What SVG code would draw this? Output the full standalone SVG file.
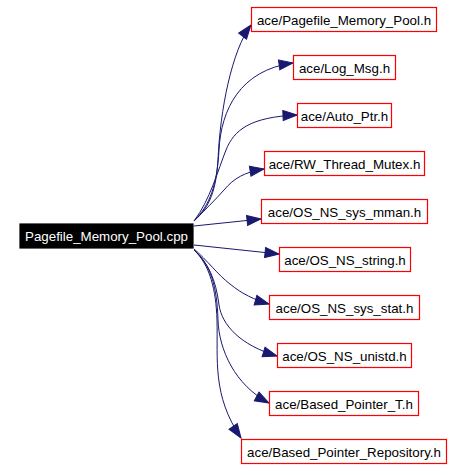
<svg xmlns="http://www.w3.org/2000/svg" width="464" height="470" viewBox="0 0 464 470">
<defs>
<marker id="ah" markerUnits="userSpaceOnUse" markerWidth="16" markerHeight="12" viewBox="0 0 16 12" refX="15" refY="6" orient="auto">
<path d="M1,1 L15,6 L1,11 z" fill="#191970" stroke="#191970" stroke-width="1"/>
</marker>
<style>
.n rect{fill:#ffffff;stroke:#ff0000;stroke-width:1.2}
.n text{font-family:"Liberation Sans",Arial,sans-serif;font-size:13.33px;fill:#000000;text-anchor:middle}
#main rect{fill:#000000;stroke:#000000}
#main text{fill:#ffffff}
.e path{fill:none;stroke:#191970;stroke-width:1;marker-end:url(#ah)}
</style>
</defs>
<rect width="464" height="470" fill="#ffffff"/>
<g class="e" id="edges">
<path d="M194,221 C210,207 216,190 218,160 C220,110 232,50 251,25"/>
<path d="M194,221 C210,205 217,185 219,150 C221,110 240,70 293,63"/>
<path d="M194,221 C210,200 218,170 226,150 C234,130 250,117 297,115"/>
<path d="M194,221 C205,210 215,200 224,190 C234,178 245,172 264,169"/>
<path d="M194,226 L261,219"/>
<path d="M194,245 L279,254"/>
<path d="M194,249 C207,260 218,275 230,284 C242,294 255,300 269,304"/>
<path d="M194,250 C208,262 216,280 219,305 C222,325 240,345 277,356"/>
<path d="M194,250 C210,264 217,285 218,320 C219,350 235,385 269,403"/>
<path d="M194,250 C210,265 216,290 217,320 C218,360 212,395 241,438"/>
</g>
<g class="n" id="main"><rect x="20" y="224" width="173" height="24"/><text x="106.5" y="241">Pagefile_Memory_Pool.cpp</text></g>
<g class="n" id="n1"><rect x="251.5" y="7.5" width="185" height="24"/><text x="344" y="24.5">ace/Pagefile_Memory_Pool.h</text></g>
<g class="n" id="n2"><rect x="293.5" y="55.5" width="102" height="24"/><text x="344.5" y="72.5">ace/Log_Msg.h</text></g>
<g class="n" id="n3"><rect x="297.5" y="103.5" width="94" height="24"/><text x="344.5" y="120.5">ace/Auto_Ptr.h</text></g>
<g class="n" id="n4"><rect x="264.5" y="151.5" width="160" height="24"/><text x="344.5" y="168.5">ace/RW_Thread_Mutex.h</text></g>
<g class="n" id="n5"><rect x="261.5" y="199.5" width="166" height="24"/><text x="344.5" y="216.5">ace/OS_NS_sys_mman.h</text></g>
<g class="n" id="n6"><rect x="279.5" y="247.5" width="131" height="24"/><text x="345" y="264.5">ace/OS_NS_string.h</text></g>
<g class="n" id="n7"><rect x="269.5" y="295.5" width="150" height="24"/><text x="344.5" y="312.5">ace/OS_NS_sys_stat.h</text></g>
<g class="n" id="n8"><rect x="277.5" y="343.5" width="134" height="24"/><text x="344.5" y="360.5">ace/OS_NS_unistd.h</text></g>
<g class="n" id="n9"><rect x="269.5" y="391.5" width="149" height="24"/><text x="344" y="408.5">ace/Based_Pointer_T.h</text></g>
<g class="n" id="n10"><rect x="241.5" y="439.5" width="205" height="24"/><text x="344" y="456.5">ace/Based_Pointer_Repository.h</text></g>
</svg>
